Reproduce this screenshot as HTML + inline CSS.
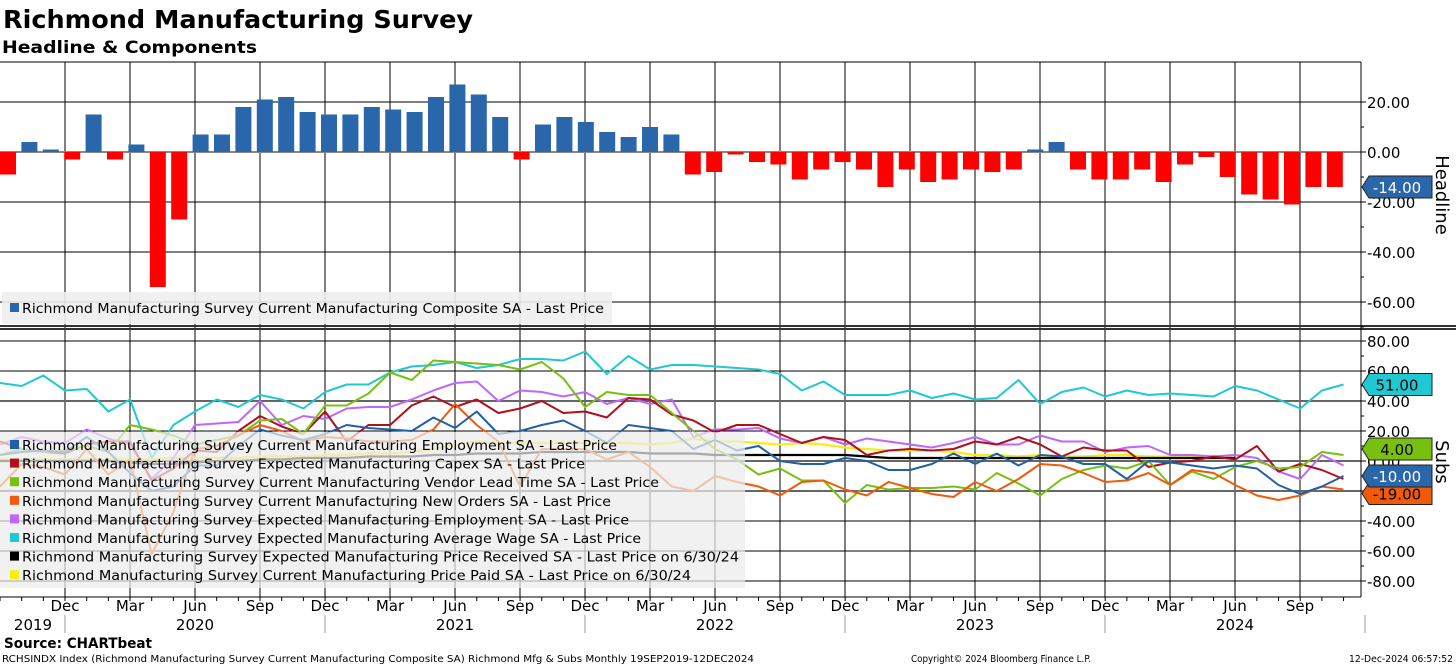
<!DOCTYPE html>
<html><head><meta charset="utf-8">
<style>
html,body{margin:0;padding:0;background:#fff;width:1456px;height:666px;overflow:hidden}
svg{display:block;font-family:"DejaVu Sans","Liberation Sans",sans-serif}
</style></head>
<body>
<svg id="chart" width="1456" height="666" viewBox="0 0 1456 666" xmlns="http://www.w3.org/2000/svg">
<text x="3" y="28" font-size="25" font-weight="bold" textLength="470" lengthAdjust="spacingAndGlyphs">Richmond Manufacturing Survey</text>
<text x="2" y="53" font-size="17" font-weight="bold" textLength="255" lengthAdjust="spacingAndGlyphs">Headline &amp; Components</text>
<g id="grid"></g>
<g id="bars"></g>
<g id="lines"></g>
<g id="legends"></g>
<g id="axes"></g>
<text x="4" y="648" font-size="14" font-weight="bold" textLength="148" lengthAdjust="spacingAndGlyphs">Source: CHARTbeat</text>
<text x="2" y="662" font-size="10" textLength="752" lengthAdjust="spacingAndGlyphs">RCHSINDX Index (Richmond Manufacturing Survey Current Manufacturing Composite SA) Richmond Mfg &amp; Subs  Monthly 19SEP2019-12DEC2024</text>
<text x="911" y="662" font-size="9.5" textLength="180" lengthAdjust="spacingAndGlyphs">Copyright© 2024 Bloomberg Finance L.P.</text>
<text x="1349" y="662" font-size="9.5" textLength="104" lengthAdjust="spacingAndGlyphs">12-Dec-2024 06:57:52</text>
</svg>
<script>
const headline = [-9,4,1,-3,15,-3,3,-54,-27,7,7,18,21,22,16,15,15,18,17,16,22,27,23,14,-3,11,14,12,8,6,10,7,-9,-8,-1,-4,-5,-11,-7,-4,-7,-14,-7,-12,-11,-7,-8,-7,1,4,-7,-11,-11,-7,-12,-5,-2,-10,-17,-19,-21,-14,-14];
const employment = [4,6,7,6,16,6,-8,-20,-17,-3,-3,10,21,17,14,18,24,22,21,20,29, 22,33,18,20,24,27,20,12,24,22,20,8,14,7,10,0,-2,-2,2,0,-6, -6,-2,5,-2,5,-3,4,3,-2,-2,-12,0,-1,-3,-5,-3,-5,-16,-22,-17,-10];
const capex = [13,8,6,5,11,13,13,-13,-5,7,6,20,30,23,18,33,13,24,24,37,43, 36,41,32,35,40,32,33,29,42,41,31,27,19,24,24,18,12,16,14,4,7, 8,7,8,13,11,16,11,3,9,7,7,-4,-1,0,3,1,10,-7,-2,-6,-12];
const vendor = [4,8,6,7,10,6,24,21,17,11,14,17,27,28,18,37,37,45,59,54,67, 66,65,64,61,66,55,36,46,44,44,32,20,8,1,-9,-5,-13,-13,-28,-16,-19, -18,-18,-17,-19,-8,-15,-23,-12,-6,-3,-5,0,-16,-7,-12,-4,0,-5,-4,6,4];
const newOrders = [-17,-2,-4,-9,8,-9,1,-62,-34,8,10,17,24,20,13,16,15,13,13,14,21, 38,24,13,-17,8,8,8,1,6,-4,-17,-20,-10,-14,-17,-23,-14,-13,-19,-23,-14, -18,-22,-24,-14,-20,-12,-2,-3,-8,-14,-13,-8,-16,-6,-8,-16,-23,-26,-23,-17,-19];
const expEmployment = [11,16,13,12,21,15,11,-12,2,24,25,26,40,24,30,28,35,36,36,41,47, 52,53,40,47,46,43,46,38,42,38,41,16,21,21,22,15,12,16,11,15,13, 11,9,12,16,11,11,17,13,13,6,9,10,4,4,3,4,2,-7,-12,4,-3];
const avgWage = [52,50,57,47,48,33,41,2,24,33,41,36,44,41,35,46,51,51,59,63,64, 66,62,64,68,68,67,73,58,70,61,64,64,63,62,61,58,47,53,44,44,44, 47,42,45,41,42,54,38,46,49,43,47,44,45,44,43,50,47,41,35,47,51];
const priceReceived = [0,0,0,0,0,0,-1,-2,-2,-1,0,0,1,1,2,2,2,3,3,3,4, 4,5,5,5,6,6,6,6,6,5,5,5,4,4,4,4,4,4,4,3,2, 2,2,2,2,2,2,2,2,2,2,2,2,2,2,2,2];
const pricePaid = [1,1,1,1,1,1,1,1,2,2,2,2,3,3,3,4,4,5,5,6,8, 11,13,12,12,12,12,12,12,12,11,12,15,13,13,12,11,12,11,9,8,7, 7,7,6,4,4,3,4,3,3,4,4,3,3,3,3,4];
const topTicks = [20,0,-20,-40,-60];
const botTicks = [80,60,40,20,0,-20,-40,-60,-80];
const monthLabels = ["Dec","Mar","Jun","Sep"];
const yearLabels = ["2019","2020","2021","2022","2023","2024"];

const NS="http://www.w3.org/2000/svg";
const PL=0, PR=1361;
const xLine = i => i*21.67;
const xBar = i => 8 + i*21.4;
const yTop = v => 152 - v*2.5;
const yBot = v => 461 - v*1.5;
function mk(tag, attrs, parent, txt){
  const e=document.createElementNS(NS,tag);
  for(const k in attrs) e.setAttribute(k, attrs[k]);
  if(txt!==undefined) e.textContent=txt;
  parent.appendChild(e); return e;
}
const grid=document.getElementById('grid'), bars=document.getElementById('bars'),
      lines=document.getElementById('lines'), legends=document.getElementById('legends'), axes=document.getElementById('axes');

for(let k=1;k<=20;k++){
  const x=65*k;
  const g=mk('line',{x1:x,y1:62,x2:x,y2:597,stroke:'#000','stroke-width':1},grid);
  
  
}
topTicks.forEach(v=>{
  const l=mk('line',{x1:0,y1:yTop(v),x2:PR,y2:yTop(v),stroke:v===0?'#888':'#000','stroke-width':v===0?2:1},grid);
  
  
});
botTicks.forEach(v=>{
  const l=mk('line',{x1:0,y1:yBot(v),x2:PR,y2:yBot(v),stroke:(v===0||v===40||v===-20)?'#666':'#000','stroke-width':(v===0||v===40||v===-20)?2:1},grid);
  
  
});
headline.forEach((v,i)=>{
  const y0=yTop(0), y1=yTop(v);
  const r=mk('rect',{x:xBar(i)-8,y:Math.min(y0,y1),width:16,height:Math.max(1,Math.abs(y1-y0)),fill:v>=0?'#2a67aa':'#ff0000'},bars);
  
  
});
const series=[
  [avgWage,'#1fc8d2','avg-wage-line'],
  [pricePaid,'#f5ee10','price-paid-line'],
  [priceReceived,'#000000','price-received-line'],
  [expEmployment,'#bf66ff','expected-employment-line'],
  [capex,'#b0101c','capex-line'],
  [vendor,'#78c010','vendor-lead-time-line'],
  [newOrders,'#f05a0a','new-orders-line'],
  [employment,'#2160a6','employment-line']
];
series.forEach(([d,c,n])=>{
  const p=mk('polyline',{points:d.map((v,i)=>xLine(i).toFixed(1)+','+yBot(v).toFixed(1)).join(' '),fill:'none',stroke:c,'stroke-width':(n==='price-paid-line'||n==='price-received-line')?2.2:2,'stroke-linejoin':'round'},lines);
  
  
});
const tl=mk('rect',{x:2,y:292,width:610,height:32,fill:'#eeeeee','fill-opacity':0.9},legends);


mk('rect',{x:10,y:303,width:9,height:9,fill:'#2a67aa'},legends);
mk('text',{x:22,y:313,'font-size':13.5,textLength:582,lengthAdjust:'spacingAndGlyphs'},legends,'Richmond Manufacturing Survey Current Manufacturing Composite SA - Last Price');
const bl=mk('rect',{x:0,y:432,width:745,height:156,fill:'#ececec','fill-opacity':0.72},legends);


const legItems=[
  ['#2160a6','Richmond Manufacturing Survey Current Manufacturing Employment SA - Last Price',595],
  ['#b0101c','Richmond Manufacturing Survey Expected Manufacturing Capex SA - Last Price',563],
  ['#78c010','Richmond Manufacturing Survey Current Manufacturing Vendor Lead Time SA - Last Price',637],
  ['#f05a0a','Richmond Manufacturing Survey Current Manufacturing New Orders SA - Last Price',589],
  ['#bf66ff','Richmond Manufacturing Survey Expected Manufacturing Employment SA - Last Price',607],
  ['#1fc8d2','Richmond Manufacturing Survey Expected Manufacturing Average Wage SA - Last Price',619],
  ['#000000','Richmond Manufacturing Survey Expected Manufacturing Price Received SA - Last Price on 6/30/24',717],
  ['#f5ee10','Richmond Manufacturing Survey Current Manufacturing Price Paid SA - Last Price on 6/30/24',669]
];
legItems.forEach(([c,t,w],k)=>{
  const cy=445+k*18.6;
  mk('rect',{x:10,y:cy-5,width:9,height:9,fill:c},legends);
  const tx=mk('text',{x:22,y:cy+5,'font-size':13.5,textLength:w,lengthAdjust:'spacingAndGlyphs'},legends,t);
  
  
});
mk('line',{x1:0,y1:326,x2:1456,y2:326,stroke:'#333','stroke-width':2},axes);
mk('line',{x1:0,y1:329,x2:1456,y2:329,stroke:'#333','stroke-width':2},axes);
mk('line',{x1:PR,y1:62,x2:PR,y2:597,stroke:'#000','stroke-width':1},axes);
mk('line',{x1:0,y1:597,x2:PR,y2:597,stroke:'#000','stroke-width':1},axes);
mk('line',{x1:0,y1:62,x2:PR,y2:62,stroke:'#000','stroke-width':1},axes);
for(let i=0;i<63;i++){ mk('line',{x1:xLine(i),y1:597,x2:xLine(i),y2:601,stroke:'#000'},axes); }
topTicks.forEach(v=>{
  mk('line',{x1:PR,y1:yTop(v),x2:PR+5,y2:yTop(v),stroke:'#000'},axes);
  mk('line',{x1:PR,y1:yTop(v)+25,x2:PR+3,y2:yTop(v)+25,stroke:'#000'},axes);
  const t=mk('text',{x:1367,y:yTop(v)+6,'font-size':15},axes,v.toFixed(2));
  
  
});
botTicks.forEach(v=>{
  mk('line',{x1:PR,y1:yBot(v),x2:PR+5,y2:yBot(v),stroke:'#000'},axes);
  if(v>-80) mk('line',{x1:PR,y1:yBot(v)+15,x2:PR+3,y2:yBot(v)+15,stroke:'#000'},axes);
  const t=mk('text',{x:1367,y:yBot(v)+6,'font-size':15},axes,v.toFixed(2));
  
  
});
const h=mk('text',{x:1436,y:195,'font-size':18,transform:'rotate(90 1436 195)','text-anchor':'middle'},axes,'Headline');


const s=mk('text',{x:1436,y:462,'font-size':18,transform:'rotate(90 1436 462)','text-anchor':'middle'},axes,'Subs');


function tag(v,color,txtColor,yf,name){
  const y=yf(v);
  const g=mk('g',{},axes);
  
  
  mk('path',{d:`M${PR+1},${y} L${PR+8},${y-11} L1432,${y-11} L1432,${y+11} L${PR+8},${y+11} Z`,fill:color,stroke:'#222','stroke-width':1},g);
  mk('text',{x:1397,y:y+6,'font-size':15,'text-anchor':'middle',fill:txtColor},g,v.toFixed(2));
}
tag(newOrders[62],'#f05a0a','#000',v=>yBot(v)+4,'new-orders-value-tag');
tag(vendor[62],'#78c010','#000',v=>yBot(v)-6,'vendor-value-tag');
tag(employment[62],'#2a67aa','#fff',v=>yBot(v),'employment-value-tag');
tag(avgWage[62],'#1fc8d2','#000',yBot,'avg-wage-value-tag');
tag(headline[62],'#2a67aa','#fff',yTop,'headline-value-tag');
for(let k=1;k<=20;k++){
  const t=mk('text',{x:65*k,y:611,'font-size':15,'text-anchor':'middle'},axes,monthLabels[(k-1)%4]);
  
  
}
yearLabels.forEach((yl,k)=>{
  const x=k===0?33:195+260*(k-1);
  const t=mk('text',{x:x,y:630,'font-size':15,'text-anchor':'middle'},axes,yl);
  
  
  mk('line',{x1:65+260*k,y1:615,x2:65+260*k,y2:633,stroke:'#999'},axes);
});
</script>
</body></html>
